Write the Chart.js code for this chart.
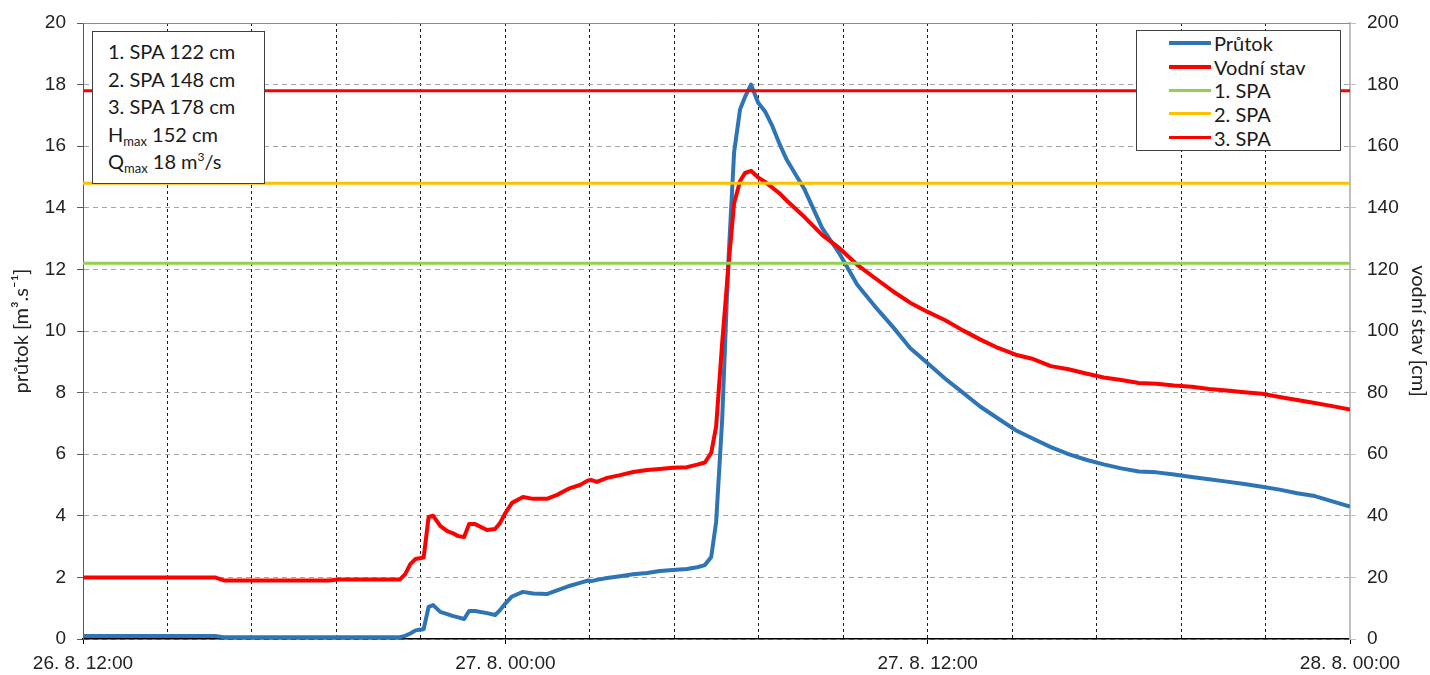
<!DOCTYPE html>
<html>
<head>
<meta charset="utf-8">
<title>Průtok a vodní stav</title>
<script src="https://cdn.jsdelivr.net/npm/chart.js@4.4.1/dist/chart.umd.min.js"></script>
<style>
  html, body { margin: 0; padding: 0; background: #fff; }
  #wrap { position: relative; width: 1430px; height: 675px; overflow: hidden; }
  #c { position: absolute; left: 0; top: 0; }
  .box {
    position: absolute; background: #fff; border: 1px solid #404040;
    font-family: Lato, "Open Sans", sans-serif; color: #1a1a1a; box-sizing: border-box;
  }
  #info { left: 92px; top: 31px; width: 173px; height: 153px; padding: 6px 0 0 15px; font-size: 20px; line-height: 27.5px; }
  #info sub { font-size: 13px; vertical-align: -4px; line-height: 0; }
  #info sup { font-size: 12px; vertical-align: 8px; line-height: 0; }
  #legend { left: 1136px; top: 30px; width: 205px; height: 121px; font-size: 20px; }
  .row { display: flex; align-items: center; height: 23.7px; white-space: nowrap; }
  .swatch { display: inline-block; width: 42px; margin-left: 32px; margin-right: 3px; }
</style>
</head>
<body>
<div id="wrap">
  <canvas id="c" width="1430" height="675"></canvas>
  <div id="info" class="box"></div>
  <div id="legend" class="box"></div>
</div>
<script>
// Hours since 26. 8. 12:00
const hours = [
  0, 1, 2, 3, 3.75, 4, 5, 6, 7, 7.25, 8, 8.5, 9, 9.15, 9.3, 9.45, 9.6, 9.68,
  9.82, 9.95, 10.15, 10.35, 10.5, 10.66, 10.83, 10.97, 11.14, 11.48, 11.71, 11.85,
  12, 12.19, 12.5, 12.79, 13.18, 13.47, 13.84, 14.12, 14.35, 14.45, 14.6, 14.89,
  15.26, 15.63, 16.03, 16.39, 16.76, 17.16, 17.45, 17.67, 17.85, 17.99, 18.16,
  18.33, 18.5, 18.67, 18.81, 18.98, 19.18, 19.38, 19.58, 19.8,
  20, 20.5, 21, 21.5, 22, 22.5, 23, 23.5, 24, 24.5, 25, 25.5, 26, 26.5, 27, 27.5,
  28, 28.5, 29, 29.5, 30, 30.5, 31, 31.5, 32, 32.5, 33, 33.5, 34, 34.5, 35, 35.5, 36
];

// Průtok [m3/s]
const flow = [
  0.10, 0.10, 0.10, 0.10, 0.10, 0.06, 0.06, 0.06, 0.06, 0.06, 0.06, 0.06, 0.06, 0.10, 0.18, 0.28, 0.31, 0.32,
  1.04, 1.10, 0.88, 0.81, 0.75, 0.70, 0.65, 0.91, 0.91, 0.84, 0.78, 0.94,
  1.15, 1.38, 1.53, 1.48, 1.46, 1.58, 1.73, 1.82, 1.90, 1.88, 1.92, 1.98,
  2.04, 2.10, 2.14, 2.21, 2.24, 2.27, 2.33, 2.40, 2.66, 3.80, 7.10,
  12.10, 15.80, 17.20, 17.60, 18.00, 17.42, 17.13, 16.67, 16.05,
  15.55, 14.60, 13.35, 12.50, 11.50, 10.80, 10.15, 9.45, 8.95, 8.45, 8.00, 7.54, 7.16, 6.78, 6.50, 6.23,
  6.00, 5.82, 5.67, 5.54, 5.44, 5.41, 5.34, 5.26, 5.19, 5.11, 5.03, 4.94, 4.85, 4.73, 4.64, 4.47, 4.30
];

// Vodní stav [cm]
const stage = [
  20, 20, 20, 20, 20, 19, 19, 19, 19, 19.3, 19.3, 19.3, 19.3, 21, 24.3, 26, 26.3, 26.5,
  39.6, 40, 36.7, 35, 34.4, 33.4, 33.1, 37.3, 37.3, 35.4, 35.7, 37.7,
  40.9, 44.2, 46.1, 45.5, 45.5, 46.8, 49, 50, 51.5, 51.6, 51.0, 52.3,
  53.2, 54.2, 54.9, 55.2, 55.6, 55.8, 56.6, 57.3, 60.4, 69, 96,
  119.8, 141.5, 148.7, 151.3, 152, 149.9, 148.4, 146.6, 144.6,
  142.3, 137, 131.2, 126.8, 121.5, 117.2, 113, 109.2, 106.2, 103.5, 100.2, 97.2, 94.5, 92.3, 90.9, 88.6,
  87.6, 86.2, 84.9, 84.1, 83.1, 82.9, 82.3, 81.9, 81.2, 80.7, 80.1, 79.6, 78.6, 77.6, 76.6, 75.6, 74.5
];

// Stupně povodňové aktivity [cm]
const spaLevels = [122, 148, 178];
const spaNames = ['1. SPA', '2. SPA', '3. SPA'];
const hMax = 152;   // cm
const qMax = 18;    // m3/s

// Time axis labels
const xLabelHours = [0, 12, 24, 36];
const xTickLabels = ['26. 8. 12:00', '27. 8. 00:00', '27. 8. 12:00', '28. 8. 00:00'];
const gridStep = 2.4;

const xMin = xLabelHours[0];
const xMax = xLabelHours[xLabelHours.length - 1];

const toPoints = (xs, ys) => xs.map((x, i) => ({ x: x, y: ys[i] }));
const levelLine = v => [{ x: xMin, y: v }, { x: xMax, y: v }];

const labelIndex = v => xLabelHours.findIndex(h => Math.abs(h - v) < 1e-6);

const spaColors = ['#92D050', '#FFC000', '#FF0000'];

const datasets = [
  { label: 'Průtok', data: toPoints(hours, flow), yAxisID: 'y', borderColor: '#2E75B6', borderWidth: 4, order: 5 },
  { label: 'Vodní stav', data: toPoints(hours, stage), yAxisID: 'y2', borderColor: '#FF0000', borderWidth: 4, order: 4 }
];
spaLevels.forEach((lv, i) => {
  datasets.push({ label: spaNames[i], data: levelLine(lv), yAxisID: 'y2', borderColor: spaColors[i], borderWidth: 3, order: 3 - i });
});
datasets.forEach(d => { d.pointRadius = 0; d.tension = 0; d.fill = false; d.borderJoinStyle = 'round'; });

// solid frame line along the top of the plot area
const topFrame = {
  id: 'topFrame',
  beforeDatasetsDraw(chart) {
    const { ctx, chartArea } = chart;
    ctx.save();
    ctx.strokeStyle = '#8c8c8c';
    ctx.lineWidth = 1;
    ctx.beginPath();
    ctx.moveTo(chartArea.left, chartArea.top + 0.5);
    ctx.lineTo(chartArea.right, chartArea.top + 0.5);
    ctx.stroke();
    ctx.restore();
  }
};

const tickFont = { family: '"Liberation Sans", Arial, sans-serif', size: 19 };
const titleFont = { family: 'Lato, "Open Sans", sans-serif', size: 20 };

const chart = new Chart(document.getElementById('c'), {
  type: 'line',
  data: { datasets: datasets },
  plugins: [topFrame],
  options: {
    responsive: false,
    animation: false,
    devicePixelRatio: 1,
    layout: { padding: { top: 23, left: 0, right: 0, bottom: 0 } },
    plugins: { legend: { display: false }, tooltip: { enabled: false } },
    scales: {
      x: {
        type: 'linear', min: xMin, max: xMax,
        afterBuildTicks: s => {
          const t = [];
          for (let v = xMin; v <= xMax + 1e-9; v += gridStep) t.push({ value: Math.round(v * 1000) / 1000 });
          s.ticks = t;
        },
        afterFit: s => { s.height = 36; },
        ticks: {
          autoSkip: false, maxRotation: 0, minRotation: 0, padding: 8,
          font: tickFont, color: '#222',
          callback: v => { const i = labelIndex(v); return i >= 0 ? xTickLabels[i] : ''; }
        },
        grid: {
          color: '#1a1a1a', lineWidth: 1, tickLength: 5, tickBorderDash: [],
          tickColor: ctx => (ctx.tick && labelIndex(ctx.tick.value) >= 0) ? '#000' : 'rgba(0,0,0,0)'
        },
        border: { color: '#000', width: 1.5, dash: [3, 3] }
      },
      y: {
        position: 'left', min: 0, max: 20,
        afterFit: s => { s.width = 83; },
        ticks: { stepSize: 2, padding: 11, font: tickFont, color: '#222' },
        grid: { color: '#a6a6a6', lineWidth: 1, tickLength: 6, tickColor: '#595959', tickBorderDash: [] },
        border: { color: '#595959', width: 1, dash: [5, 4] },
        title: { display: true, text: 'průtok [m³.s⁻¹]', font: titleFont, color: '#222', padding: { top: 10, bottom: 0 } }
      },
      y2: {
        position: 'right', min: 0, max: 200,
        afterFit: s => { s.width = 80; },
        ticks: { stepSize: 20, padding: 11, font: tickFont, color: '#222' },
        grid: { drawOnChartArea: false, tickLength: 6, tickColor: '#bfbfbf' },
        border: { color: '#bfbfbf', width: 2 },
        title: { display: true, text: 'vodní stav [cm]', font: titleFont, color: '#222', padding: { top: 0, bottom: 0 } }
      }
    }
  }
});

// Info box with flood activity levels and maxima
const info = document.getElementById('info');
info.innerHTML =
  spaLevels.map((lv, i) => `<div>${spaNames[i]} ${lv} cm</div>`).join('') +
  `<div>H<sub>max</sub> ${hMax} cm</div>` +
  `<div>Q<sub>max</sub> ${qMax} m<sup>3</sup>/s</div>`;

// Legend
const legend = document.getElementById('legend');
datasets.forEach(d => {
  const row = document.createElement('div');
  row.className = 'row';
  const sw = document.createElement('span');
  sw.className = 'swatch';
  sw.style.height = d.borderWidth + 'px';
  sw.style.background = d.borderColor;
  const tx = document.createElement('span');
  tx.textContent = d.label;
  row.appendChild(sw);
  row.appendChild(tx);
  legend.appendChild(row);
});
</script>
</body>
</html>
